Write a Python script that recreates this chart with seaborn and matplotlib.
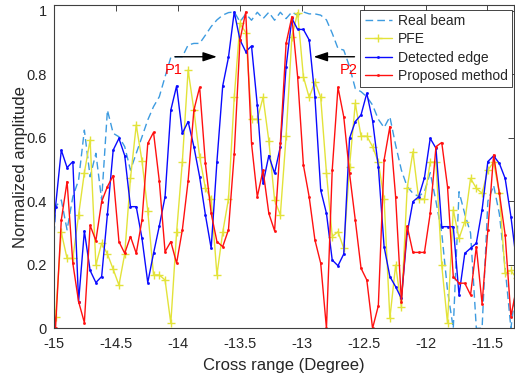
import numpy as np
import pandas as pd
import matplotlib
matplotlib.use("Agg")
import matplotlib.pyplot as plt
import seaborn as sns

# ---- data (uniform angular grid, first sample just left of -15 deg) ----
x_start = -15.0317
x_step = 0.04651
n_pts = 82

real_beam = [0.0, 0.383, 0.404, 0.310, 0.414, 0.467, 0.624, 0.477, 0.551, 0.404,
             0.687, 0.614, 0.603, 0.572, 0.498, 0.551, 0.603, 0.656, 0.698, 0.729,
             0.792, 0.853, 0.855, 0.855, 0.892, 0.897, 0.897, 0.923, 0.950, 0.971,
             0.986, 0.994, 0.996,
             0.965, 0.99, 0.97, 0.995, 0.975, 0.995, 0.97, 0.995, 0.975, 0.996,
             0.985, 0.996, 0.99, 0.99, 0.986,
             0.971, 0.929, 0.881, 0.876, 0.824, 0.755, 0.745, 0.729, 0.703, 0.658,
             0.632, 0.666, 0.577, 0.498, 0.446, 0.425,
             0.415, 0.43, 0.49, 0.40, 0.30, 0.12, 0.0, 0.43, 0.36, 0.30,
             0.0, 0.0, 0.40, 0.45, 0.36, 0.19, 0.0, 0.15]

pfe = [0.152, 0.037,
       0.302, 0.220, 0.220, 0.357, 0.490, 0.593, 0.199, 0.268, 0.234, 0.186,
       0.136, 0.234, 0.472, 0.640, 0.527, 0.370, 0.168, 0.168, 0.152, 0.016,
       0.302, 0.525, 0.813, 0.687, 0.540, 0.441, 0.407, 0.168, 0.302, 0.407,
       0.727, 0.960, 0.931, 0.658, 0.658, 0.727, 0.591, 0.404, 0.357, 0.605,
       0.918, 0.994, 0.792, 0.727, 0.776, 0.727, 0.490, 0.289, 0.304, 0.252,
       0.509, 0.708, 0.605, 0.605, 0.572, 0.523, 0.407, 0.031, 0.199, 0.068,
       0.441, 0.556, 0.407, 0.407, 0.523, 0.523, 0.199, 0.016, 0.373, 0.283,
       0.336, 0.472, 0.441, 0.425, 0.498, 0.523, 0.425, 0.173, 0.182, 0.157]

detected_edge = [0.121, 0.383,
                 0.561, 0.506, 0.525, 0.084, 0.306, 0.182, 0.144, 0.163, 0.359, 0.561,
                 0.598, 0.544, 0.383, 0.383, 0.283, 0.144, 0.236, 0.322, 0.414, 0.687,
                 0.763, 0.614, 0.651, 0.572, 0.477, 0.357, 0.252, 0.525, 0.763, 0.853,
                 0.996, 0.908, 0.871, 0.889, 0.703, 0.456, 0.544, 0.488, 0.572, 0.824,
                 0.976, 0.941, 0.941, 0.908, 0.729, 0.435, 0.362, 0.215, 0.197, 0.234,
                 0.598, 0.651, 0.672, 0.740, 0.654, 0.509, 0.257, 0.163, 0.131, 0.094,
                 0.299, 0.399, 0.414, 0.474, 0.598, 0.567, 0.320, 0.320, 0.320, 0.105,
                 0.236, 0.252, 0.268, 0.373, 0.525, 0.543, 0.519, 0.472, 0.352, 0.205]

proposed = [0.213, 0.0,
            0.341, 0.462, 0.205, 0.084, 0.018, 0.324, 0.276, 0.399, 0.446, 0.481,
            0.273, 0.236, 0.289, 0.236, 0.341, 0.582, 0.617, 0.464, 0.241, 0.273,
            0.205, 0.310, 0.464, 0.687, 0.759, 0.519, 0.362, 0.273, 0.257, 0.310,
            0.549, 0.908, 0.996, 0.582, 0.414, 0.498, 0.362, 0.307, 0.582, 0.897,
            0.981, 0.792, 0.514, 0.414, 0.278, 0.205, 0.0, 0.498, 0.759, 0.666,
            0.488, 0.341, 0.189, 0.152, 0.0, 0.071, 0.530, 0.635, 0.414, 0.084,
            0.322, 0.239, 0.239, 0.239, 0.362, 0.572, 0.585, 0.446, 0.163, 0.142,
            0.142, 0.105, 0.257, 0.077, 0.310, 0.546, 0.425, 0.294, 0.037, 0.131]

series_names = ["Real beam", "PFE", "Detected edge", "Proposed method"]
x_ticks = [-15, -14.5, -14, -13.5, -13, -12.5, -12, -11.5]
x_tick_labels = ["-15", "-14.5", "-14", "-13.5", "-13", "-12.5", "-12", "-11.5"]
y_ticks = [0, 0.2, 0.4, 0.6, 0.8, 1.0]
y_tick_labels = ["0", "0.2", "0.4", "0.6", "0.8", "1"]

x = x_start + x_step * np.arange(n_pts)
df = pd.DataFrame({"x": x, "Real beam": real_beam, "PFE": pfe,
                   "Detected edge": detected_edge, "Proposed method": proposed})

# ---- style ----
sns.set_theme(style="white")
plt.rcParams["font.family"] = ["Liberation Sans", "DejaVu Sans"]
plt.rcParams["axes.unicode_minus"] = False

W, H = 515, 379
fig = plt.figure(figsize=(W / 100, H / 100), dpi=100)
ax = fig.add_axes([53.7 / W, 50.7 / H, (513.5 - 53.7) / W, 323 / H])

c_real, c_pfe, c_edge, c_prop = "#3d9be0", "#e3e33a", "#0a0aff", "#ff1010"
styles = {
    "Real beam": dict(color=c_real, linestyle=(0, (5.5, 3)), lw=1.0),
    "PFE": dict(color=c_pfe, marker="+", markersize=6, mew=1.0, mec=c_pfe, lw=1.0),
    "Detected edge": dict(color=c_edge, marker=".", markersize=3, mew=0.5, mec=c_edge, lw=1.0),
    "Proposed method": dict(color=c_prop, marker=".", markersize=3, mew=0.5, mec=c_prop, lw=1.0),
}
for name in series_names:
    sns.lineplot(data=df, x="x", y=name, ax=ax, label=name, sort=False,
                 estimator=None, **styles[name])

ax.set_xlim(-15, -11.29)
ax.set_ylim(0, 1.017)
ax.set_xticks(x_ticks)
ax.set_xticklabels(x_tick_labels)
ax.set_yticks(y_ticks)
ax.set_yticklabels(y_tick_labels)
ax.tick_params(direction="in", top=True, right=True, length=4, width=0.6,
               labelsize=10.5, colors="#262626")
ax.tick_params(axis="x", pad=6)
ax.tick_params(axis="y", pad=5)
for s in ax.spines.values():
    s.set_color("#404040")
    s.set_linewidth(0.8)

ax.set_xlabel("Cross range (Degree)", fontsize=12, color="#262626", labelpad=5)
ax.set_ylabel("Normalized amplitude", fontsize=12, color="#262626")
ax.yaxis.set_label_coords(-0.056, 0.5)

# annotations
arrow_kw = dict(arrowstyle="-|>,head_length=0.6,head_width=0.2", color="black",
                lw=1.0, mutation_scale=14, shrinkA=0, shrinkB=0)
ax.annotate("", xy=(-13.683, 0.855), xytext=(-14.022, 0.855), arrowprops=arrow_kw)
ax.annotate("", xy=(-12.903, 0.855), xytext=(-12.573, 0.855), arrowprops=arrow_kw)
ax.text(-14.03, 0.813, "P1", color="red", fontsize=10.5, ha="center", va="center")
ax.text(-12.623, 0.813, "P2", color="red", fontsize=10.5, ha="center", va="center")

leg = ax.legend(loc="upper right", bbox_to_anchor=(0.9967, 0.9854), borderaxespad=0,
                fontsize=10, frameon=True, fancybox=False, framealpha=1,
                edgecolor="#262626", handlelength=2.0, handletextpad=0.4,
                labelspacing=0.3, borderpad=0.3)
leg.get_frame().set_linewidth(0.6)

fig.savefig("out.png", dpi=100)
